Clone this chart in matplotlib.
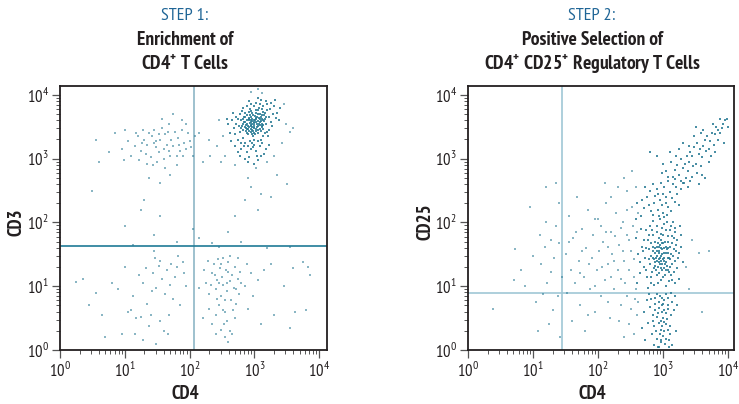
import numpy as np
import matplotlib
matplotlib.use("Agg")
import matplotlib.pyplot as plt
from matplotlib.ticker import LogLocator, FixedLocator, NullFormatter

FONT = ['PT Sans Narrow', 'DejaVu Sans']
plt.rcParams['font.family'] = FONT
plt.rcParams['mathtext.fontset'] = 'custom'
plt.rcParams['mathtext.rm'] = 'PT Sans Narrow'
plt.rcParams['mathtext.bf'] = 'PT Sans Narrow:bold'

# ---------------- data (log10 of fluorescence) ----------------
titles = ["STEP 1:", "STEP 2:"]
subtitle_line1 = ["Enrichment of", "Positive Selection of"]
subtitle_line2 = [r"CD4$^{\mathbf{+}}$ T Cells",
                  r"CD4$^{\mathbf{+}}$ CD25$^{\mathbf{+}}$ Regulatory T Cells"]
x_labels = ["CD4", "CD4"]
y_labels = ["CD3", "CD25"]
decade_labels = ["10$^{0}$", "10$^{1}$", "10$^{2}$", "10$^{3}$", "10$^{4}$"]
gates_step1 = (115, 42)    # CD4 gate, CD3 gate
gates_step2 = (28, 7.9)    # CD4 gate, CD25 gate

# Step 1: CD4+ CD3+ main cluster
s1_cluster = [(2.95,3.52),(3.01,3.60),(2.88,3.47),(3.07,3.55),(2.92,3.63),(3.12,3.68),(2.99,3.41),(2.84,3.58),(3.04,3.49),(2.97,3.71),(3.10,3.44),(2.90,3.39),(3.15,3.59),(2.86,3.66),(3.03,3.77),(2.94,3.57),(3.08,3.62),(2.81,3.51),(3.00,3.53),(2.96,3.45),(3.13,3.74),(2.89,3.55),(3.06,3.40),(2.93,3.68),(3.02,3.64),(2.98,3.36),(3.11,3.51),(2.87,3.43),(3.05,3.70),(2.91,3.60),(3.17,3.63),(2.83,3.62),(3.00,3.48),(2.95,3.75),(3.09,3.57),(2.92,3.50),(3.14,3.46),(2.85,3.71),(3.03,3.58),(2.97,3.63),(3.07,3.80),(2.90,3.46),(3.01,3.38),(2.88,3.61),(3.12,3.55),(2.94,3.42),(3.04,3.66),(2.99,3.58),(3.16,3.72),(2.82,3.45),(3.06,3.52),(2.93,3.56),(3.10,3.65),(2.96,3.49),(3.02,3.72),(2.87,3.53),(3.13,3.61),(2.91,3.73),(3.00,3.61),(2.98,3.44),(3.08,3.47),(2.85,3.49),(3.05,3.59),(2.95,3.66),(3.11,3.78),(2.89,3.40),(3.03,3.43),(2.94,3.61),(3.09,3.70),(2.97,3.54),(3.14,3.53),(2.86,3.57),(3.01,3.67),(2.92,3.44),(3.06,3.76),(2.99,3.50),(3.18,3.66),(2.84,3.65),(3.04,3.54),(2.96,3.59),(3.10,3.59),(2.90,3.52),(3.02,3.46),(2.93,3.78),(3.07,3.64),(2.88,3.69),(3.12,3.49),(2.97,3.39),(3.00,3.56),(2.95,3.47),(3.08,3.53),(2.91,3.64),(3.05,3.45),(2.98,3.69),(3.15,3.69),(2.83,3.54),(3.03,3.62),(2.94,3.53),(3.11,3.62),(2.87,3.48),
(2.72,3.55),(2.68,3.48),(2.75,3.62),(2.70,3.38),(2.78,3.70),(2.74,3.30),(2.66,3.60),(2.80,3.25),(2.77,3.42),(2.71,3.66),(3.25,3.58),(3.28,3.70),(3.22,3.45),(3.30,3.82),(3.24,3.78),(3.20,3.85),(3.27,3.52),(3.33,3.64),(3.21,3.36),(3.26,3.88),(2.90,3.20),(2.95,3.15),(3.00,3.22),(3.05,3.28),(2.86,3.25),(3.10,3.30),(2.93,3.28),(3.02,3.12),(2.98,3.18),(3.08,3.20),(2.82,3.32),(3.14,3.35),(2.79,3.15),(2.88,3.10),(3.04,3.05),(2.92,3.02),(3.00,3.30),(2.96,3.25),(3.12,3.25),(2.84,3.20),
(2.95,3.85),(3.02,3.88),(3.08,3.86),(2.88,3.82),(3.14,3.82),(3.18,3.90),(3.10,3.92),(2.99,3.83),(3.05,3.95),(2.92,3.90),(3.20,3.76),(3.18,3.55),(3.19,3.42),(2.80,3.60),(2.79,3.48),(2.81,3.75),(3.22,3.65),(3.16,3.40),(2.76,3.52),(2.83,3.80),
(2.62,3.40),(2.60,3.55),(2.64,3.28),(2.58,3.62),(2.67,3.72),(3.35,3.72),(3.38,3.60),(3.32,3.92),(3.40,3.80),(2.70,3.20),(2.74,3.10),(3.18,3.15),(3.22,3.22),(2.85,3.00),(3.10,3.05),(3.06,2.98),(2.90,2.95),(3.15,3.08),(3.00,2.92),(2.78,3.05)]

# Step 1: sparse events
s1_sparse = [(2.52,3.35),(2.45,3.60),(3.48,3.55),(3.55,3.42),(3.45,3.85),(3.12,4.03),(2.95,4.05),(3.05,4.10),(2.42,3.20),(2.30,3.30),(2.55,3.05),(3.42,3.25),(3.60,3.48),(2.48,2.95),(3.30,3.05),(3.02,2.85),(3.20,2.95),(2.70,2.90),(3.35,2.75),(3.50,2.60),(2.90,2.70),(3.10,2.45),(2.95,2.55),(3.25,2.40),(3.05,2.20),(2.85,2.35),(2.32,3.05),(2.20,2.95),(2.15,3.40),
(1.30,3.30),(1.45,3.25),(1.62,3.38),(1.75,3.20),(1.88,3.45),(1.52,3.10),(1.38,3.40),(1.95,3.15),(1.70,3.05),(1.25,3.12),(1.58,3.48),(1.82,3.32),(2.00,3.28),(1.40,3.02),(1.65,3.22),(1.90,3.05),(1.20,3.35),(1.55,3.30),(1.78,3.42),(1.48,3.18),(1.68,3.55),(1.35,3.22),(1.85,3.12),(1.98,3.40),(1.60,3.00),(1.28,3.45),(1.72,3.30),(1.42,3.35),(1.92,3.25),(1.15,3.20),(1.05,3.28),(0.95,3.15),(0.85,3.40),(1.10,3.05),(1.50,2.95),(1.80,2.90),(1.62,2.85),(1.35,2.92),(2.05,3.05),(2.08,3.35),(1.00,3.45),(0.75,3.10),(0.60,2.95),(0.55,3.30),(1.22,2.98),(1.45,3.45),(1.68,3.12),(1.88,3.60),(1.58,3.62),(1.95,3.55),(1.75,3.70),(2.02,3.18),(1.32,3.08),(1.52,3.38),(1.84,3.22),(1.66,3.42),(1.44,2.90),(1.70,2.75),(1.38,2.70),(1.55,2.62),(0.98,2.98),(1.18,3.40),(1.60,3.15),(1.26,3.25),(1.80,3.05),(1.48,3.28),(0.50,2.50),(1.30,2.35),(1.55,2.10),(1.25,2.20),(1.45,1.55),(1.00,1.95),
(0.25,1.06),(0.55,0.90),(0.65,0.55),(0.80,1.05),(0.90,0.95),(0.95,0.25),(1.00,1.30),(1.05,0.60),(1.10,0.62),(1.12,0.85),(1.18,0.50),(1.22,1.18),(1.28,1.05),(1.32,1.28),(1.35,0.72),(1.40,0.55),(1.44,1.20),(1.48,0.98),(1.52,1.32),(1.55,0.45),(1.58,1.12),(1.62,0.88),(1.65,1.25),(1.68,0.55),(1.72,1.35),(1.75,0.80),(1.78,1.15),(1.80,1.30),(1.85,0.70),(1.90,1.38),(1.92,1.20),(1.28,0.15),(1.48,0.10),(1.60,0.30),(0.45,0.70),(0.70,0.20),(1.38,0.38),(1.55,1.40),(1.42,0.92),(1.70,1.02),(1.25,0.52),(1.66,0.25),(1.95,1.00),(0.35,1.12),(1.15,0.25),(1.82,1.48),(1.46,1.45),
(2.25,1.05),(2.30,0.88),(2.35,1.20),(2.38,1.35),(2.40,0.95),(2.42,1.10),(2.45,0.70),(2.47,1.28),(2.48,0.85),(2.50,1.15),(2.52,1.02),(2.55,0.60),(2.56,1.25),(2.58,0.92),(2.60,1.38),(2.62,1.08),(2.64,0.78),(2.65,1.18),(2.68,0.98),(2.70,1.30),(2.72,0.72),(2.74,1.12),(2.76,0.88),(2.78,1.22),(2.80,1.05),(2.44,1.42),(2.52,1.45),(2.58,0.45),(2.62,0.30),(2.55,0.20),(2.48,0.32),(2.66,0.25),(2.60,0.12),(2.40,0.55),(2.35,0.40),(2.30,0.65),(2.20,0.50),(2.22,1.25),(2.15,0.98),(2.28,1.40),(2.85,1.00),(2.90,0.65),(2.95,1.20),(3.05,1.10),(3.15,1.25),(3.25,1.35),(3.30,0.55),(3.45,1.00),(3.55,0.35),(3.60,1.28),(3.75,1.38),(3.80,0.62),(3.82,1.30),(3.85,1.18),(3.62,0.60),(3.10,0.40),(2.98,0.85),(2.88,1.35),(2.70,0.50),(2.75,1.45),(2.54,0.78),(2.46,1.05),(2.59,1.22),(2.67,0.62),(2.43,0.80),(2.51,0.62),(2.63,1.48),(2.39,1.18),(2.57,1.05),(2.49,1.35),(2.71,0.95),(2.33,1.02),(2.41,0.25),(2.53,0.40),
(1.12,1.65),(1.80,1.70),(2.15,1.75),(2.45,1.62),(2.60,1.85),(2.80,1.70),(3.20,1.60),(3.55,1.62),(2.05,1.90),(2.70,2.10),(1.45,1.80),(2.35,1.68)]

# Step 2: CD4+ column (CD25 low to high) and CD25-high diagonal
s2_cluster = [(2.95,0.85),(3.02,0.78),(2.88,0.72),(3.08,0.65),(2.92,0.58),(3.00,0.50),(2.85,0.45),(3.05,0.40),(2.97,0.32),(3.10,0.25),(2.90,0.18),(3.03,0.10),(2.94,0.05),(3.07,0.82),(2.82,0.80),(2.99,0.70),(3.12,0.55),(2.87,0.62),(3.01,0.62),(2.93,0.42),(3.06,0.48),(2.89,0.30),(3.00,0.22),(2.96,0.12),(3.09,0.15),(2.84,0.55),(3.14,0.75),(2.91,0.88),(3.04,0.88),(2.98,0.60),(2.86,0.38),(3.11,0.38),(2.95,0.25),(3.02,0.30),(2.80,0.68),(3.16,0.62),(2.93,0.75),(3.07,0.70),(2.97,0.45),(2.90,0.52),(3.05,0.58),(2.83,0.25),(3.13,0.08),(2.99,0.82),(2.78,0.88),(3.18,0.85),(2.76,0.42),(2.72,0.15),(3.20,0.30),(2.70,0.60),(2.92,0.05),(3.04,0.18),(2.86,0.08),(3.09,0.05),(2.98,0.38),(3.01,0.44),(2.94,0.66),(3.08,0.32),(2.88,0.82),(3.12,0.90),(2.75,0.78),(2.68,0.35),(3.22,0.70),(2.97,0.15),(3.00,0.72),
(2.95,1.45),(3.02,1.52),(2.88,1.38),(3.08,1.60),(2.92,1.30),(3.00,1.68),(2.85,1.55),(3.05,1.25),(2.97,1.72),(3.10,1.42),(2.90,1.62),(3.03,1.35),(2.94,1.20),(3.07,1.78),(2.82,1.48),(2.99,1.58),(3.12,1.50),(2.87,1.70),(3.01,1.40),(2.93,1.55),(3.06,1.32),(2.89,1.25),(3.00,1.15),(2.96,1.82),(3.09,1.22),(2.84,1.62),(3.14,1.68),(2.91,1.48),(3.04,1.62),(2.98,1.35),(2.86,1.42),(3.11,1.30),(2.95,1.65),(3.02,1.28),(2.80,1.35),(3.16,1.58),(2.93,1.75),(3.07,1.45),(2.97,1.10),(2.90,1.85),(3.05,1.88),(2.83,1.22),(3.13,1.78),(2.99,1.50),(2.78,1.58),(3.18,1.40),(2.76,1.72),(2.72,1.45),(3.20,1.65),(2.70,1.30),(2.92,1.05),(3.04,1.00),(2.86,1.02),(3.09,1.08),(2.98,1.92),(3.01,1.98),(2.94,1.38),(3.08,1.52),(2.88,1.52),(3.12,1.18),(2.75,1.15),(2.68,1.62),(3.22,1.28),(2.97,1.60),(3.00,1.42),(2.91,1.18),(3.03,1.70),(2.85,1.80),(3.10,1.88),(2.96,1.28),(2.89,1.45),(3.06,1.58),(2.93,1.62),(3.02,1.45),(2.81,1.68),(3.15,1.48),(2.99,1.25),(2.87,1.32),(3.05,1.38),(2.94,1.52),(3.08,1.70),(2.90,1.40),(3.00,1.80),(2.84,1.45),(3.11,1.62),(2.96,1.48),(3.03,1.18),(2.92,1.68),(3.13,1.35),(2.88,1.60),(2.98,1.68),(3.07,1.25),(2.95,1.35),(3.01,1.60),(2.86,1.28),(3.09,1.45),(2.93,1.42),(3.04,1.52),(2.90,1.55),(2.97,1.40),
(2.65,1.20),(2.62,1.50),(2.58,1.75),(2.66,1.90),(2.60,1.05),(3.25,1.52),(3.28,1.80),(3.24,1.12),(3.30,1.38),(3.26,1.95),(2.80,1.95),(2.85,2.02),(3.15,2.00),(3.18,1.92),(2.74,1.88),(2.77,0.98),(3.18,1.05),(2.82,1.05),(3.14,1.10),(2.70,1.72),(3.21,1.72),(2.64,1.38),(3.27,1.62),(2.73,1.25),(2.79,1.42),(3.17,1.22),(2.69,1.55),(3.23,1.45),(2.83,1.88),(3.12,1.95),(2.91,1.95),(3.06,2.00),(2.95,2.05),(3.02,2.08),(2.78,1.80),(3.19,1.85),(2.81,1.15),(3.16,1.75),(2.74,1.60),(3.20,1.55),
(2.85,2.12),(2.92,2.20),(3.00,2.15),(3.08,2.25),(2.78,2.28),(2.95,2.35),(3.12,2.18),(2.88,2.42),(3.05,2.40),(2.98,2.28),(3.18,2.32),(2.82,2.18),(3.10,2.48),(2.90,2.52),(3.02,2.55),(3.15,2.60),(2.75,2.40),(3.22,2.45),(2.94,2.10),(3.06,2.12),(2.70,2.22),(3.25,2.28),(2.86,2.30),(3.00,2.45),(3.20,2.55),(2.80,2.50),(3.14,2.38),(2.96,2.62),(3.08,2.65),(2.68,2.35),(3.28,2.52),(2.92,2.45),(2.84,2.60),(3.18,2.68),(2.72,2.55),(3.04,2.30),(2.66,2.10),(3.30,2.62),(2.60,2.30),(2.58,2.05),
(3.25,2.75),(3.30,2.85),(3.35,2.70),(3.22,2.90),(3.40,2.95),(3.38,2.80),(3.45,3.05),(3.28,3.00),(3.50,2.92),(3.42,3.10),(3.55,3.08),(3.48,3.18),(3.60,3.02),(3.52,3.25),(3.62,3.20),(3.58,2.88),(3.65,3.30),(3.70,3.15),(3.68,3.35),(3.72,3.28),(3.75,3.40),(3.80,3.38),(3.78,3.22),(3.85,3.45),(3.82,3.50),(3.88,3.40),(3.92,3.55),(3.90,3.48),(3.95,3.60),(4.00,3.50),(3.98,3.62),(3.15,2.72),(3.18,2.82),(3.32,2.62),(3.36,3.05),(3.44,2.72),(3.46,2.88),(3.52,2.78),(3.56,3.15),(3.40,3.20),(3.33,2.92),(3.27,2.65),(3.62,3.45),(3.70,2.95),(3.74,3.05),(3.66,3.12),(3.85,3.30),(3.20,3.05),(3.12,2.95),(3.05,2.80),(3.08,2.72),(2.98,2.78),(3.00,2.92),(3.10,3.10),(3.48,3.35),(3.58,3.40),(3.42,2.65),(3.38,2.55),(3.55,2.60),(3.60,2.75),(3.65,2.70),(3.80,3.10),(3.93,3.25),(3.76,3.55),(3.88,3.62),(3.30,3.25),(3.25,3.15),(3.50,3.50),(2.90,3.05),(2.80,3.10)]

# Step 2: sparse events
s2_sparse = [(0.38,0.65),(0.70,1.10),(0.72,1.58),(0.82,1.25),(0.95,2.25),(1.00,1.48),(1.05,0.75),(1.08,0.30),(1.12,1.35),(1.15,0.88),(1.18,1.62),(1.20,2.00),(1.22,1.05),(1.25,0.40),(1.28,1.22),(1.30,0.62),(1.32,1.45),(1.35,1.95),(1.38,0.85),(1.40,1.68),(1.42,0.20),(1.20,2.55),(1.36,2.62),(1.40,2.30),(1.44,1.15),(1.10,1.80),(1.27,1.72),(0.88,1.00),
(1.50,1.50),(1.52,0.90),(1.55,2.10),(1.58,1.25),(1.60,0.45),(1.62,1.75),(1.65,1.05),(1.68,2.40),(1.70,1.40),(1.72,0.70),(1.75,1.90),(1.78,1.15),(1.80,0.30),(1.82,1.60),(1.85,2.20),(1.88,0.95),(1.90,1.45),(1.92,1.80),(1.95,0.60),(1.98,1.25),(2.00,2.05),(2.02,1.55),(2.05,0.85),(2.08,1.70),(2.10,1.10),(2.12,2.30),(2.15,1.35),(2.18,0.50),(2.20,1.85),(2.22,1.50),(2.25,0.95),(2.28,2.15),(2.30,1.25),(2.32,1.65),(2.35,0.70),(2.38,2.00),(2.40,1.40),(2.42,1.05),(2.45,1.80),(2.48,0.40),(2.50,1.55),(2.52,2.25),(2.55,1.15),(2.57,0.80),(2.48,1.25),(2.53,1.95),(2.44,2.50),(2.36,1.12),(2.26,1.78),(2.16,1.62),(2.06,1.30),(1.96,2.05),(1.86,1.35),(1.76,1.55),(1.66,1.85),(1.56,1.70),(2.40,2.70),(2.30,2.55),(2.20,2.40),(2.10,2.62),(2.58,2.55),(2.52,2.80),(2.45,2.20),(2.35,1.92),(2.25,1.40),(2.15,0.75),(2.05,1.95),(1.95,1.00),(2.55,0.25),(2.40,0.20),(2.32,0.45),(2.50,0.65),(2.60,0.55),(2.58,0.95),(2.62,0.75),(2.45,0.85),(2.20,1.15),(1.85,0.55),(1.72,1.20),(2.12,1.85),(2.38,1.55),(2.48,1.72),(2.55,1.42),(2.60,1.85),(2.62,2.15),
(3.45,1.72),(3.55,1.52),(3.60,0.60),(3.40,0.95),(3.35,1.30),(3.70,1.55)]

# ---------------- figure ----------------
W, H = 739, 404
fig = plt.figure(figsize=(W / 100, H / 100), dpi=100)

dot = '#2a7b95'
title_blue = '#1f6596'
ink = '#231f20'
panels = [
    dict(rect=[60 / W, 1 - 350 / H, 267 / W, 264 / H], xmax=10 ** 4.12, ymax=10 ** 4.14,
         cluster=s1_cluster, sparse=s1_sparse, gates=gates_step1,
         vcol='#8db6c6', hcol='#1f7a96', cx=185, ylx=17),
    dict(rect=[468 / W, 1 - 350 / H, 266 / W, 264 / H], xmax=10 ** 4.09, ymax=10 ** 4.14,
         cluster=s2_cluster, sparse=s2_sparse, gates=gates_step2,
         vcol='#9fc7d5', hcol='#9fc7d5', cx=592, ylx=425),
]

for i, p in enumerate(panels):
    ax = fig.add_axes(p['rect'])
    ax.set_xscale('log')
    ax.set_yscale('log')
    c = np.array(p['cluster'])
    s = np.array(p['sparse'])
    ax.scatter(10 ** s[:, 0], 10 ** s[:, 1], s=1.3, marker='s', c=dot, alpha=0.55,
               linewidths=0, zorder=2)
    ax.scatter(10 ** c[:, 0], 10 ** c[:, 1], s=4.5, marker='s', c=dot, alpha=0.85,
               linewidths=0, zorder=2)
    gx, gy = p['gates']
    ax.axvline(gx, color=p['vcol'], lw=1.2, zorder=1)
    ax.axhline(gy, color=p['hcol'], lw=1.2, zorder=1)
    ax.set_xlim(1, p['xmax'])
    ax.set_ylim(1, p['ymax'])
    for sp in ax.spines.values():
        sp.set_linewidth(1.3)
        sp.set_color(ink)
    majors = [1, 10, 100, 1000, 10000]
    ax.xaxis.set_major_locator(FixedLocator(majors))
    ax.yaxis.set_major_locator(FixedLocator(majors))
    ax.xaxis.set_minor_locator(LogLocator(base=10, subs=np.arange(2, 10), numticks=20))
    ax.yaxis.set_minor_locator(LogLocator(base=10, subs=np.arange(2, 10), numticks=20))
    ax.xaxis.set_minor_formatter(NullFormatter())
    ax.yaxis.set_minor_formatter(NullFormatter())
    ax.set_xticklabels(decade_labels)
    ax.set_yticklabels(decade_labels)
    ax.tick_params(which='major', direction='out', length=6, width=0.9, color='#555555',
                   labelsize=12, pad=2, labelcolor=ink)
    ax.tick_params(which='minor', direction='out', length=3, width=0.7, color='#555555')
    ax.tick_params(top=False, right=False, which='both')

    cx = p['cx'] / W
    fig.text(cx, 1 - 16 / H, titles[i], ha='center', va='center', color=title_blue,
             fontsize=13)
    fig.text(cx, 1 - 40 / H, subtitle_line1[i], ha='center', va='center', color=ink,
             fontsize=14, fontweight='bold')
    fig.text(cx, 1 - 64 / H, subtitle_line2[i], ha='center', va='center', color=ink,
             fontsize=14, fontweight='bold')
    fig.text(cx, 1 - 394 / H, x_labels[i], ha='center', va='center', color=ink,
             fontsize=13.5, fontweight='bold')
    fig.text(p['ylx'] / W, 1 - 222 / H, y_labels[i], ha='center', va='center', color=ink,
             fontsize=13.5, fontweight='bold', rotation=90)

fig.savefig('out.png', dpi=100)
